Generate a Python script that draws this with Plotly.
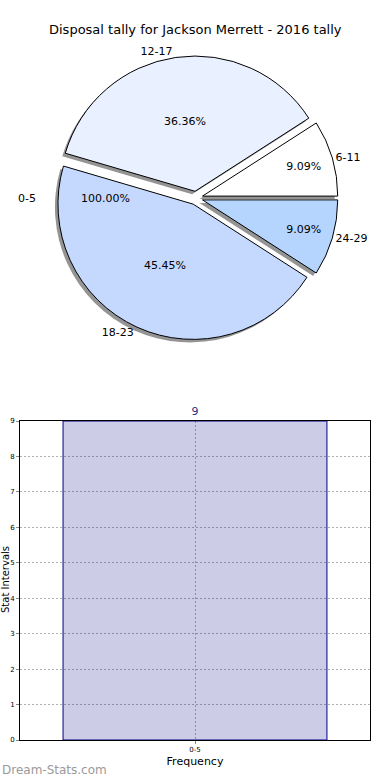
import plotly.graph_objects as go

# ---- data ----
pie_labels = ["6-11", "12-17", "18-23", "24-29"]
pie_values = [1, 4, 5, 1]
pie_colors = ["#ffffff", "#e9f0ff", "#c5d9ff", "#b5d5ff"]
zero_label = "0-5"
zero_pct_text = "100.00%"

bar_categories = ["0-5"]
bar_values = [9]
y_ticks = [0, 1, 2, 3, 4, 5, 6, 7, 8, 9]

title_text = "Disposal tally for Jackson Merrett - 2016 tally"

W, H = 390, 780
font_family = "DejaVu Sans"

def px_x(x):
    return x / W

def px_y(y):
    return 1 - y / H

total = sum(pie_values)
rot = 90 - 360.0 * pie_values[0] / total

pie_dom_x = [px_x(52), px_x(340)]
pie_dom_y = [px_y(340), px_y(56)]
shadow_dx, shadow_dy = -3, 3
pulls = [0.05] * len(pie_values)

fig = go.Figure()

fig.add_trace(go.Pie(
    labels=pie_labels, values=pie_values, sort=False,
    direction="counterclockwise", rotation=rot, pull=pulls,
    marker=dict(colors=["rgba(60,60,60,0.55)"] * len(pie_values), line=dict(width=0)),
    textinfo="none", hoverinfo="skip", showlegend=False,
    domain=dict(x=[pie_dom_x[0] + px_x(shadow_dx), pie_dom_x[1] + px_x(shadow_dx)],
                y=[pie_dom_y[0] - shadow_dy / H, pie_dom_y[1] - shadow_dy / H]),
))

fig.add_trace(go.Pie(
    labels=pie_labels, values=pie_values, sort=False,
    direction="counterclockwise", rotation=rot, pull=pulls,
    marker=dict(colors=pie_colors, line=dict(color="black", width=1)),
    texttemplate="%{percent:.2%}", textposition="inside",
    insidetextorientation="horizontal",
    textfont=dict(family=font_family, size=11, color="black"),
    showlegend=False, domain=dict(x=pie_dom_x, y=pie_dom_y),
))

fig.add_trace(go.Pie(
    labels=pie_labels, values=pie_values, sort=False,
    direction="counterclockwise", rotation=rot, pull=pulls,
    marker=dict(colors=["rgba(0,0,0,0)"] * len(pie_values), line=dict(width=0)),
    texttemplate="%{label}", textposition="outside",
    outsidetextfont=dict(family=font_family, size=11, color="black"),
    hoverinfo="skip", showlegend=False, domain=dict(x=pie_dom_x, y=pie_dom_y),
))

fig.add_trace(go.Bar(
    x=bar_categories, y=bar_values,
    marker=dict(color="rgba(0,0,128,0.2)", line=dict(color="#00008b", width=1)),
    text=[str(v) for v in bar_values], textposition="outside",
    textfont=dict(family=font_family, size=11, color="#223388"),
    cliponaxis=False, showlegend=False, xaxis="x", yaxis="y",
))

fig.update_layout(
    template="none",
    width=W, height=H,
    margin=dict(l=0, r=0, t=0, b=0, autoexpand=False),
    paper_bgcolor="white", plot_bgcolor="white",
    font=dict(family=font_family, color="black"),
    bargap=0.246,
    xaxis=dict(domain=[px_x(20), px_x(370)], range=[-0.5, 0.5], type="category",
               showline=True, linecolor="black", linewidth=1, mirror=True,
               showgrid=True, gridcolor="#b0b0b0", griddash="2px,2px", gridwidth=1,
               ticks="outside", ticklen=3, tickcolor="#888888",
               tickfont=dict(size=7, family=font_family),
               title=dict(text="Frequency", font=dict(size=11), standoff=3),
               automargin=False, anchor="y", fixedrange=True),
    yaxis=dict(domain=[px_y(740), px_y(421)], range=[0, 9],
               tickvals=y_ticks,
               showline=True, linecolor="black", linewidth=1, mirror=True,
               showgrid=True, gridcolor="#b0b0b0", griddash="2px,2px", gridwidth=1,
               ticks="outside", ticklen=3, tickcolor="#888888",
               tickfont=dict(size=7, family=font_family),
               automargin=False, zeroline=False, anchor="x", fixedrange=True),
    annotations=[
        dict(text=title_text, x=0.5, y=px_y(30), xref="paper", yref="paper",
             showarrow=False, font=dict(size=13, family=font_family), xanchor="center", yanchor="middle"),
        dict(text=zero_label, x=px_x(27), y=px_y(198), xref="paper", yref="paper",
             showarrow=False, font=dict(size=11, family=font_family), xanchor="center", yanchor="middle"),
        dict(text=zero_pct_text, x=px_x(105), y=px_y(198), xref="paper", yref="paper",
             showarrow=False, font=dict(size=11, family=font_family), xanchor="center", yanchor="middle"),
        dict(text="Stat Intervals", x=px_x(5), y=px_y(580), xref="paper", yref="paper",
             showarrow=False, textangle=-90, font=dict(size=10, family=font_family),
             xanchor="center", yanchor="middle"),
        dict(text="Dream-Stats.com", x=px_x(0), y=px_y(770), xref="paper", yref="paper",
             showarrow=False, font=dict(size=12, family=font_family, color="#9a9a9a"),
             xanchor="left", yanchor="middle"),
    ],
)

fig.write_html("out.html",
               config={"displayModeBar": False},
               post_script="document.body.style.margin='0px';document.body.style.overflow='hidden';")
